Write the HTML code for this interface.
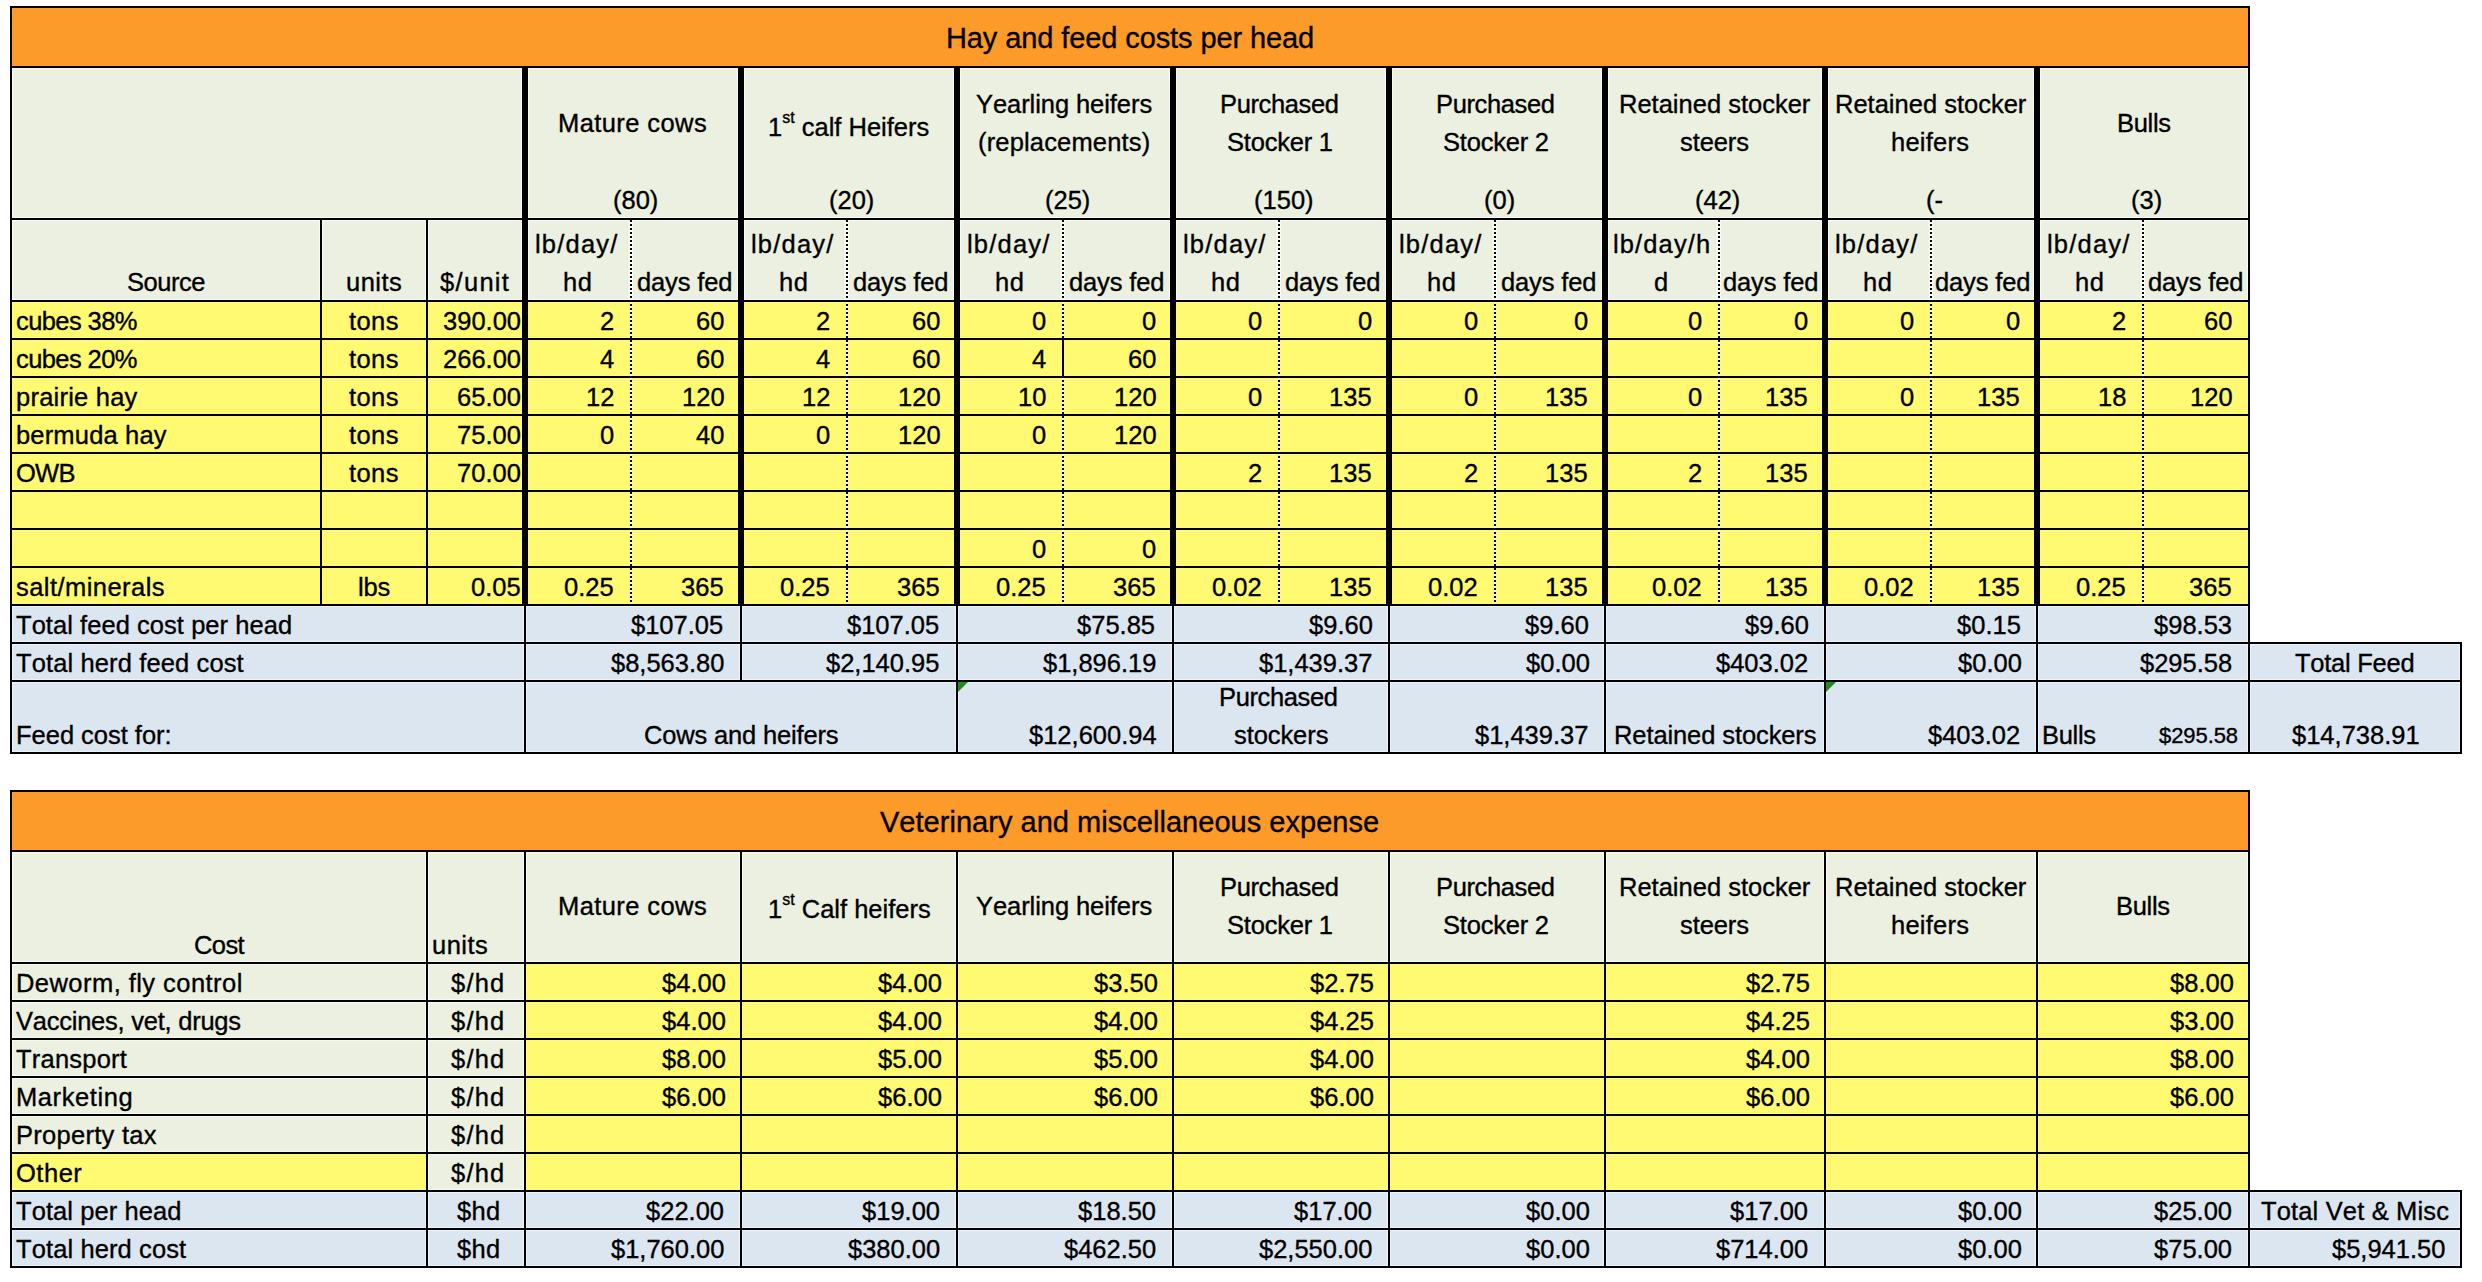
<!DOCTYPE html>
<html lang="en">
<head>
<meta charset="utf-8">
<title>Hay and feed costs per head</title>
<style>
html,body{margin:0;padding:0;background:#fff}
body{width:2482px;height:1282px;position:relative;overflow:hidden;font-family:"Liberation Sans",sans-serif;color:#000}
.r,.l,.d,.t{position:absolute}
.l{background:#000}
.d{background:repeating-linear-gradient(to bottom,#000 0,#000 2px,#fff 2px,#fff 4px)}
.t{white-space:pre;font-kerning:none;line-height:30px;height:30px;font-size:25.5px;-webkit-text-stroke:0.35px #000}
.t.h{font-size:29px;line-height:34px;height:34px}
.t.s{font-size:22px}
.t sup{font-size:16px;line-height:0;vertical-align:13px;letter-spacing:0}
.tri{position:absolute;width:0;height:0;border-top:10px solid #1E8A1E;border-right:10px solid transparent}

</style>
</head>
<body>
<!-- tinted fills (green / blue) -->
<div class="r" style="left:12px;top:68px;width:2236px;height:232px;background:#EBF0E0"></div>
<div class="r" style="left:12px;top:606px;width:2236px;height:36px;background:#DCE6F1"></div>
<div class="r" style="left:12px;top:644px;width:2448px;height:108px;background:#DCE6F1"></div>
<div class="r" style="left:12px;top:852px;width:2236px;height:110px;background:#EBF0E0"></div>
<div class="r" style="left:12px;top:964px;width:512px;height:226px;background:#EBF0E0"></div>
<div class="r" style="left:12px;top:1192px;width:2448px;height:74px;background:#DCE6F1"></div>
<!-- 1px light halo that Excel leaves beside borders on tinted fills -->
<div class="r" style="left:12px;top:68px;width:1px;height:232px;background:#FAFCF1"></div>
<div class="r" style="left:319px;top:217px;width:4px;height:83px;background:#FAFCF1"></div>
<div class="r" style="left:425px;top:217px;width:4px;height:83px;background:#FAFCF1"></div>
<div class="r" style="left:521px;top:68px;width:8px;height:232px;background:#FAFCF1"></div>
<div class="r" style="left:737px;top:68px;width:8px;height:232px;background:#FAFCF1"></div>
<div class="r" style="left:953px;top:68px;width:8px;height:232px;background:#FAFCF1"></div>
<div class="r" style="left:1169px;top:68px;width:8px;height:232px;background:#FAFCF1"></div>
<div class="r" style="left:1385px;top:68px;width:8px;height:232px;background:#FAFCF1"></div>
<div class="r" style="left:1601px;top:68px;width:8px;height:232px;background:#FAFCF1"></div>
<div class="r" style="left:1821px;top:68px;width:8px;height:232px;background:#FAFCF1"></div>
<div class="r" style="left:2033px;top:68px;width:8px;height:232px;background:#FAFCF1"></div>
<div class="r" style="left:629px;top:219px;width:4px;height:81px;background:#FAFCF1"></div>
<div class="r" style="left:845px;top:219px;width:4px;height:81px;background:#FAFCF1"></div>
<div class="r" style="left:1061px;top:219px;width:4px;height:81px;background:#FAFCF1"></div>
<div class="r" style="left:1277px;top:219px;width:4px;height:81px;background:#FAFCF1"></div>
<div class="r" style="left:1493px;top:219px;width:4px;height:81px;background:#FAFCF1"></div>
<div class="r" style="left:1717px;top:219px;width:4px;height:81px;background:#FAFCF1"></div>
<div class="r" style="left:1929px;top:219px;width:4px;height:81px;background:#FAFCF1"></div>
<div class="r" style="left:2141px;top:219px;width:4px;height:81px;background:#FAFCF1"></div>
<div class="r" style="left:2247px;top:68px;width:1px;height:232px;background:#FAFCF1"></div>
<div class="r" style="left:12px;top:68px;width:2236px;height:1px;background:#FAFCF1"></div>
<div class="r" style="left:12px;top:217px;width:2236px;height:4px;background:#FAFCF1"></div>
<div class="r" style="left:12px;top:299px;width:2236px;height:1px;background:#FAFCF1"></div>
<div class="r" style="left:12px;top:606px;width:1px;height:36px;background:#EBF3FC"></div>
<div class="r" style="left:2247px;top:606px;width:1px;height:36px;background:#EBF3FC"></div>
<div class="r" style="left:523px;top:606px;width:4px;height:36px;background:#EBF3FC"></div>
<div class="r" style="left:739px;top:606px;width:4px;height:36px;background:#EBF3FC"></div>
<div class="r" style="left:955px;top:606px;width:4px;height:36px;background:#EBF3FC"></div>
<div class="r" style="left:1171px;top:606px;width:4px;height:36px;background:#EBF3FC"></div>
<div class="r" style="left:1387px;top:606px;width:4px;height:36px;background:#EBF3FC"></div>
<div class="r" style="left:1603px;top:606px;width:4px;height:36px;background:#EBF3FC"></div>
<div class="r" style="left:1823px;top:606px;width:4px;height:36px;background:#EBF3FC"></div>
<div class="r" style="left:2035px;top:606px;width:4px;height:36px;background:#EBF3FC"></div>
<div class="r" style="left:12px;top:606px;width:2236px;height:1px;background:#EBF3FC"></div>
<div class="r" style="left:12px;top:641px;width:2236px;height:1px;background:#EBF3FC"></div>
<div class="r" style="left:12px;top:644px;width:1px;height:108px;background:#EBF3FC"></div>
<div class="r" style="left:2247px;top:644px;width:4px;height:108px;background:#EBF3FC"></div>
<div class="r" style="left:523px;top:644px;width:4px;height:108px;background:#EBF3FC"></div>
<div class="r" style="left:739px;top:644px;width:4px;height:39px;background:#EBF3FC"></div>
<div class="r" style="left:955px;top:644px;width:4px;height:108px;background:#EBF3FC"></div>
<div class="r" style="left:1171px;top:644px;width:4px;height:108px;background:#EBF3FC"></div>
<div class="r" style="left:1387px;top:644px;width:4px;height:108px;background:#EBF3FC"></div>
<div class="r" style="left:1603px;top:644px;width:4px;height:108px;background:#EBF3FC"></div>
<div class="r" style="left:1823px;top:644px;width:4px;height:108px;background:#EBF3FC"></div>
<div class="r" style="left:2035px;top:644px;width:4px;height:108px;background:#EBF3FC"></div>
<div class="r" style="left:2459px;top:644px;width:1px;height:108px;background:#EBF3FC"></div>
<div class="r" style="left:12px;top:644px;width:2448px;height:1px;background:#EBF3FC"></div>
<div class="r" style="left:12px;top:679px;width:2448px;height:4px;background:#EBF3FC"></div>
<div class="r" style="left:12px;top:751px;width:2448px;height:1px;background:#EBF3FC"></div>
<div class="r" style="left:12px;top:852px;width:1px;height:110px;background:#FAFCF1"></div>
<div class="r" style="left:425px;top:852px;width:4px;height:110px;background:#FAFCF1"></div>
<div class="r" style="left:523px;top:852px;width:4px;height:110px;background:#FAFCF1"></div>
<div class="r" style="left:739px;top:852px;width:4px;height:110px;background:#FAFCF1"></div>
<div class="r" style="left:955px;top:852px;width:4px;height:110px;background:#FAFCF1"></div>
<div class="r" style="left:1171px;top:852px;width:4px;height:110px;background:#FAFCF1"></div>
<div class="r" style="left:1387px;top:852px;width:4px;height:110px;background:#FAFCF1"></div>
<div class="r" style="left:1603px;top:852px;width:4px;height:110px;background:#FAFCF1"></div>
<div class="r" style="left:1823px;top:852px;width:4px;height:110px;background:#FAFCF1"></div>
<div class="r" style="left:2035px;top:852px;width:4px;height:110px;background:#FAFCF1"></div>
<div class="r" style="left:2247px;top:852px;width:1px;height:110px;background:#FAFCF1"></div>
<div class="r" style="left:12px;top:852px;width:2236px;height:1px;background:#FAFCF1"></div>
<div class="r" style="left:12px;top:961px;width:2236px;height:1px;background:#FAFCF1"></div>
<div class="r" style="left:12px;top:964px;width:1px;height:226px;background:#FAFCF1"></div>
<div class="r" style="left:425px;top:964px;width:4px;height:226px;background:#FAFCF1"></div>
<div class="r" style="left:523px;top:964px;width:1px;height:226px;background:#FAFCF1"></div>
<div class="r" style="left:12px;top:964px;width:512px;height:1px;background:#FAFCF1"></div>
<div class="r" style="left:12px;top:999px;width:512px;height:4px;background:#FAFCF1"></div>
<div class="r" style="left:12px;top:1037px;width:512px;height:4px;background:#FAFCF1"></div>
<div class="r" style="left:12px;top:1075px;width:512px;height:4px;background:#FAFCF1"></div>
<div class="r" style="left:12px;top:1113px;width:512px;height:4px;background:#FAFCF1"></div>
<div class="r" style="left:12px;top:1151px;width:512px;height:4px;background:#FAFCF1"></div>
<div class="r" style="left:12px;top:1189px;width:512px;height:1px;background:#FAFCF1"></div>
<div class="r" style="left:12px;top:1192px;width:1px;height:74px;background:#EBF3FC"></div>
<div class="r" style="left:425px;top:1192px;width:4px;height:74px;background:#EBF3FC"></div>
<div class="r" style="left:523px;top:1192px;width:4px;height:74px;background:#EBF3FC"></div>
<div class="r" style="left:739px;top:1192px;width:4px;height:74px;background:#EBF3FC"></div>
<div class="r" style="left:955px;top:1192px;width:4px;height:74px;background:#EBF3FC"></div>
<div class="r" style="left:1171px;top:1192px;width:4px;height:74px;background:#EBF3FC"></div>
<div class="r" style="left:1387px;top:1192px;width:4px;height:74px;background:#EBF3FC"></div>
<div class="r" style="left:1603px;top:1192px;width:4px;height:74px;background:#EBF3FC"></div>
<div class="r" style="left:1823px;top:1192px;width:4px;height:74px;background:#EBF3FC"></div>
<div class="r" style="left:2035px;top:1192px;width:4px;height:74px;background:#EBF3FC"></div>
<div class="r" style="left:2247px;top:1192px;width:4px;height:74px;background:#EBF3FC"></div>
<div class="r" style="left:2459px;top:1192px;width:1px;height:74px;background:#EBF3FC"></div>
<div class="r" style="left:12px;top:1192px;width:2448px;height:1px;background:#EBF3FC"></div>
<div class="r" style="left:12px;top:1227px;width:2448px;height:4px;background:#EBF3FC"></div>
<div class="r" style="left:12px;top:1265px;width:2448px;height:1px;background:#EBF3FC"></div>
<!-- solid fills (orange / yellow) cover the halo -->
<div class="r" style="left:12px;top:8px;width:2236px;height:58px;background:#FC9A2A"></div>
<div class="r" style="left:12px;top:302px;width:2236px;height:302px;background:#FFFA72"></div>
<div class="r" style="left:12px;top:792px;width:2236px;height:58px;background:#FC9A2A"></div>
<div class="r" style="left:12px;top:1154px;width:414px;height:36px;background:#FFFA72"></div>
<div class="r" style="left:526px;top:964px;width:1722px;height:226px;background:#FFFA72"></div>
<!-- borders -->
<div class="l" style="left:10px;top:6px;width:2px;height:748px"></div>
<div class="l" style="left:320px;top:218px;width:2px;height:386px"></div>
<div class="l" style="left:426px;top:218px;width:2px;height:386px"></div>
<div class="l" style="left:522px;top:66px;width:6px;height:538px"></div>
<div class="l" style="left:738px;top:66px;width:6px;height:538px"></div>
<div class="l" style="left:954px;top:66px;width:6px;height:538px"></div>
<div class="l" style="left:1170px;top:66px;width:6px;height:538px"></div>
<div class="l" style="left:1386px;top:66px;width:6px;height:538px"></div>
<div class="l" style="left:1602px;top:66px;width:6px;height:538px"></div>
<div class="l" style="left:1822px;top:66px;width:6px;height:538px"></div>
<div class="l" style="left:2034px;top:66px;width:6px;height:538px"></div>
<div class="d" style="left:630px;top:220px;width:2px;height:384px;background-position:0 0px"></div>
<div class="d" style="left:846px;top:220px;width:2px;height:384px;background-position:0 0px"></div>
<div class="d" style="left:1062px;top:220px;width:2px;height:384px;background-position:0 0px"></div>
<div class="d" style="left:1278px;top:220px;width:2px;height:384px;background-position:0 0px"></div>
<div class="d" style="left:1494px;top:220px;width:2px;height:384px;background-position:0 0px"></div>
<div class="d" style="left:1718px;top:220px;width:2px;height:384px;background-position:0 0px"></div>
<div class="d" style="left:1930px;top:220px;width:2px;height:384px;background-position:0 0px"></div>
<div class="d" style="left:2142px;top:220px;width:2px;height:384px;background-position:0 0px"></div>
<div class="l" style="left:1062px;top:338px;width:2px;height:40px"></div>
<div class="l" style="left:2248px;top:6px;width:2px;height:748px"></div>
<div class="l" style="left:524px;top:604px;width:2px;height:150px"></div>
<div class="l" style="left:740px;top:604px;width:2px;height:78px"></div>
<div class="l" style="left:956px;top:604px;width:2px;height:150px"></div>
<div class="l" style="left:1172px;top:604px;width:2px;height:150px"></div>
<div class="l" style="left:1388px;top:604px;width:2px;height:150px"></div>
<div class="l" style="left:1604px;top:604px;width:2px;height:150px"></div>
<div class="l" style="left:1824px;top:604px;width:2px;height:150px"></div>
<div class="l" style="left:2036px;top:604px;width:2px;height:150px"></div>
<div class="l" style="left:2460px;top:642px;width:2px;height:112px"></div>
<div class="l" style="left:10px;top:6px;width:2240px;height:2px"></div>
<div class="l" style="left:10px;top:66px;width:2240px;height:2px"></div>
<div class="l" style="left:10px;top:218px;width:2240px;height:2px"></div>
<div class="l" style="left:10px;top:300px;width:2240px;height:2px"></div>
<div class="l" style="left:10px;top:338px;width:2240px;height:2px"></div>
<div class="l" style="left:10px;top:376px;width:2240px;height:2px"></div>
<div class="l" style="left:10px;top:414px;width:2240px;height:2px"></div>
<div class="l" style="left:10px;top:452px;width:2240px;height:2px"></div>
<div class="l" style="left:10px;top:490px;width:2240px;height:2px"></div>
<div class="l" style="left:10px;top:528px;width:2240px;height:2px"></div>
<div class="l" style="left:10px;top:566px;width:2240px;height:2px"></div>
<div class="l" style="left:10px;top:604px;width:2240px;height:2px"></div>
<div class="l" style="left:10px;top:642px;width:2452px;height:2px"></div>
<div class="l" style="left:10px;top:680px;width:2452px;height:2px"></div>
<div class="l" style="left:10px;top:752px;width:2452px;height:2px"></div>
<div class="l" style="left:10px;top:790px;width:2px;height:478px"></div>
<div class="l" style="left:426px;top:850px;width:2px;height:418px"></div>
<div class="l" style="left:524px;top:850px;width:2px;height:418px"></div>
<div class="l" style="left:740px;top:850px;width:2px;height:418px"></div>
<div class="l" style="left:956px;top:850px;width:2px;height:418px"></div>
<div class="l" style="left:1172px;top:850px;width:2px;height:418px"></div>
<div class="l" style="left:1388px;top:850px;width:2px;height:418px"></div>
<div class="l" style="left:1604px;top:850px;width:2px;height:418px"></div>
<div class="l" style="left:1824px;top:850px;width:2px;height:418px"></div>
<div class="l" style="left:2036px;top:850px;width:2px;height:418px"></div>
<div class="l" style="left:2248px;top:790px;width:2px;height:478px"></div>
<div class="l" style="left:2460px;top:1190px;width:2px;height:78px"></div>
<div class="l" style="left:10px;top:790px;width:2240px;height:2px"></div>
<div class="l" style="left:10px;top:850px;width:2240px;height:2px"></div>
<div class="l" style="left:10px;top:962px;width:2240px;height:2px"></div>
<div class="l" style="left:10px;top:1000px;width:2240px;height:2px"></div>
<div class="l" style="left:10px;top:1038px;width:2240px;height:2px"></div>
<div class="l" style="left:10px;top:1076px;width:2240px;height:2px"></div>
<div class="l" style="left:10px;top:1114px;width:2240px;height:2px"></div>
<div class="l" style="left:10px;top:1152px;width:2240px;height:2px"></div>
<div class="l" style="left:10px;top:1190px;width:2452px;height:2px"></div>
<div class="l" style="left:10px;top:1228px;width:2452px;height:2px"></div>
<div class="l" style="left:10px;top:1266px;width:2452px;height:2px"></div>
<div class="tri" style="left:958px;top:682px"></div>
<div class="tri" style="left:1826px;top:682px"></div>
<!-- text -->
<div class="t" style="left:558px;top:108px;letter-spacing:0.41px">Mature cows</div>
<div class="t" style="left:768px;top:112px">1<sup>st</sup> calf Heifers</div>
<div class="t" style="left:976px;top:89px;letter-spacing:-0.07px">Yearling heifers</div>
<div class="t" style="left:978px;top:127px;letter-spacing:0.16px">(replacements)</div>
<div class="t" style="left:1220px;top:89px;letter-spacing:-0.38px">Purchased</div>
<div class="t" style="left:1227px;top:127px;letter-spacing:-0.21px">Stocker 1</div>
<div class="t" style="left:1436px;top:89px;letter-spacing:-0.38px">Purchased</div>
<div class="t" style="left:1443px;top:127px;letter-spacing:-0.21px">Stocker 2</div>
<div class="t" style="left:1619px;top:89px">Retained stocker</div>
<div class="t" style="left:1680px;top:127px;letter-spacing:-0.09px">steers</div>
<div class="t" style="left:1835px;top:89px">Retained stocker</div>
<div class="t" style="left:1891px;top:127px;letter-spacing:0.25px">heifers</div>
<div class="t" style="left:2117px;top:108px;letter-spacing:-0.31px">Bulls</div>
<div class="t" style="left:613px;top:185px">(80)</div>
<div class="t" style="left:829px;top:185px">(20)</div>
<div class="t" style="left:1045px;top:185px">(25)</div>
<div class="t" style="left:1254px;top:185px;letter-spacing:0.01px">(150)</div>
<div class="t" style="left:1484px;top:185px">(0)</div>
<div class="t" style="left:1695px;top:185px">(42)</div>
<div class="t" style="left:1926px;top:185px;letter-spacing:0.04px">(-</div>
<div class="t" style="left:2131px;top:185px">(3)</div>
<div class="t h" style="left:946px;top:21px;letter-spacing:-0.10px">Hay and feed costs per head</div>
<div class="t" style="left:127px;top:267px;letter-spacing:-0.49px">Source</div>
<div class="t" style="left:346px;top:267px;letter-spacing:0.46px">units</div>
<div class="t" style="left:440px;top:267px;letter-spacing:1.31px">$/unit</div>
<div class="t" style="left:535px;top:229px;letter-spacing:1.20px">lb/day/</div>
<div class="t" style="left:563px;top:267px;letter-spacing:0.52px">hd</div>
<div class="t" style="left:637px;top:267px;letter-spacing:-0.14px">days fed</div>
<div class="t" style="left:751px;top:229px;letter-spacing:1.20px">lb/day/</div>
<div class="t" style="left:779px;top:267px;letter-spacing:0.52px">hd</div>
<div class="t" style="left:853px;top:267px;letter-spacing:-0.14px">days fed</div>
<div class="t" style="left:967px;top:229px;letter-spacing:1.20px">lb/day/</div>
<div class="t" style="left:995px;top:267px;letter-spacing:0.52px">hd</div>
<div class="t" style="left:1069px;top:267px;letter-spacing:-0.14px">days fed</div>
<div class="t" style="left:1183px;top:229px;letter-spacing:1.20px">lb/day/</div>
<div class="t" style="left:1211px;top:267px;letter-spacing:0.52px">hd</div>
<div class="t" style="left:1285px;top:267px;letter-spacing:-0.14px">days fed</div>
<div class="t" style="left:1399px;top:229px;letter-spacing:1.20px">lb/day/</div>
<div class="t" style="left:1427px;top:267px;letter-spacing:0.52px">hd</div>
<div class="t" style="left:1501px;top:267px;letter-spacing:-0.14px">days fed</div>
<div class="t" style="left:1613px;top:229px;letter-spacing:1.12px">lb/day/h</div>
<div class="t" style="left:1654px;top:267px;letter-spacing:0.53px">d</div>
<div class="t" style="left:1723px;top:267px;letter-spacing:-0.14px">days fed</div>
<div class="t" style="left:1835px;top:229px;letter-spacing:1.20px">lb/day/</div>
<div class="t" style="left:1863px;top:267px;letter-spacing:0.52px">hd</div>
<div class="t" style="left:1935px;top:267px;letter-spacing:-0.14px">days fed</div>
<div class="t" style="left:2047px;top:229px;letter-spacing:1.20px">lb/day/</div>
<div class="t" style="left:2075px;top:267px;letter-spacing:0.52px">hd</div>
<div class="t" style="left:2148px;top:267px;letter-spacing:-0.14px">days fed</div>
<div class="t" style="left:16px;top:306px;letter-spacing:-0.59px">cubes 38%</div>
<div class="t" style="left:349px;top:306px;letter-spacing:0.40px">tons</div>
<div class="t" style="left:443px;top:306px;letter-spacing:0.01px">390.00</div>
<div class="t" style="left:600px;top:306px;letter-spacing:0.02px">2</div>
<div class="t" style="left:696px;top:306px;letter-spacing:0.01px">60</div>
<div class="t" style="left:816px;top:306px;letter-spacing:0.02px">2</div>
<div class="t" style="left:912px;top:306px;letter-spacing:0.01px">60</div>
<div class="t" style="left:1032px;top:306px;letter-spacing:0.02px">0</div>
<div class="t" style="left:1142px;top:306px;letter-spacing:0.02px">0</div>
<div class="t" style="left:1248px;top:306px;letter-spacing:0.02px">0</div>
<div class="t" style="left:1358px;top:306px;letter-spacing:0.02px">0</div>
<div class="t" style="left:1464px;top:306px;letter-spacing:0.02px">0</div>
<div class="t" style="left:1574px;top:306px;letter-spacing:0.02px">0</div>
<div class="t" style="left:1688px;top:306px;letter-spacing:0.02px">0</div>
<div class="t" style="left:1794px;top:306px;letter-spacing:0.02px">0</div>
<div class="t" style="left:1900px;top:306px;letter-spacing:0.02px">0</div>
<div class="t" style="left:2006px;top:306px;letter-spacing:0.02px">0</div>
<div class="t" style="left:2112px;top:306px;letter-spacing:0.02px">2</div>
<div class="t" style="left:2204px;top:306px;letter-spacing:0.01px">60</div>
<div class="t" style="left:16px;top:344px;letter-spacing:-0.59px">cubes 20%</div>
<div class="t" style="left:349px;top:344px;letter-spacing:0.40px">tons</div>
<div class="t" style="left:443px;top:344px;letter-spacing:0.01px">266.00</div>
<div class="t" style="left:600px;top:344px;letter-spacing:0.02px">4</div>
<div class="t" style="left:696px;top:344px;letter-spacing:0.01px">60</div>
<div class="t" style="left:816px;top:344px;letter-spacing:0.02px">4</div>
<div class="t" style="left:912px;top:344px;letter-spacing:0.01px">60</div>
<div class="t" style="left:1032px;top:344px;letter-spacing:0.02px">4</div>
<div class="t" style="left:1128px;top:344px;letter-spacing:0.01px">60</div>
<div class="t" style="left:16px;top:382px;letter-spacing:0.23px">prairie hay</div>
<div class="t" style="left:349px;top:382px;letter-spacing:0.40px">tons</div>
<div class="t" style="left:457px;top:382px;letter-spacing:0.01px">65.00</div>
<div class="t" style="left:586px;top:382px;letter-spacing:0.01px">12</div>
<div class="t" style="left:682px;top:382px;letter-spacing:0.01px">120</div>
<div class="t" style="left:802px;top:382px;letter-spacing:0.01px">12</div>
<div class="t" style="left:898px;top:382px;letter-spacing:0.01px">120</div>
<div class="t" style="left:1018px;top:382px;letter-spacing:0.01px">10</div>
<div class="t" style="left:1114px;top:382px;letter-spacing:0.01px">120</div>
<div class="t" style="left:1248px;top:382px;letter-spacing:0.02px">0</div>
<div class="t" style="left:1329px;top:382px;letter-spacing:0.01px">135</div>
<div class="t" style="left:1464px;top:382px;letter-spacing:0.02px">0</div>
<div class="t" style="left:1545px;top:382px;letter-spacing:0.01px">135</div>
<div class="t" style="left:1688px;top:382px;letter-spacing:0.02px">0</div>
<div class="t" style="left:1765px;top:382px;letter-spacing:0.01px">135</div>
<div class="t" style="left:1900px;top:382px;letter-spacing:0.02px">0</div>
<div class="t" style="left:1977px;top:382px;letter-spacing:0.01px">135</div>
<div class="t" style="left:2098px;top:382px;letter-spacing:0.01px">18</div>
<div class="t" style="left:2190px;top:382px;letter-spacing:0.01px">120</div>
<div class="t" style="left:16px;top:420px;letter-spacing:0.17px">bermuda hay</div>
<div class="t" style="left:349px;top:420px;letter-spacing:0.40px">tons</div>
<div class="t" style="left:457px;top:420px;letter-spacing:0.01px">75.00</div>
<div class="t" style="left:600px;top:420px;letter-spacing:0.02px">0</div>
<div class="t" style="left:696px;top:420px;letter-spacing:0.01px">40</div>
<div class="t" style="left:816px;top:420px;letter-spacing:0.02px">0</div>
<div class="t" style="left:898px;top:420px;letter-spacing:0.01px">120</div>
<div class="t" style="left:1032px;top:420px;letter-spacing:0.02px">0</div>
<div class="t" style="left:1114px;top:420px;letter-spacing:0.01px">120</div>
<div class="t" style="left:16px;top:458px;letter-spacing:-0.74px">OWB</div>
<div class="t" style="left:349px;top:458px;letter-spacing:0.40px">tons</div>
<div class="t" style="left:457px;top:458px;letter-spacing:0.01px">70.00</div>
<div class="t" style="left:1248px;top:458px;letter-spacing:0.02px">2</div>
<div class="t" style="left:1329px;top:458px;letter-spacing:0.01px">135</div>
<div class="t" style="left:1464px;top:458px;letter-spacing:0.02px">2</div>
<div class="t" style="left:1545px;top:458px;letter-spacing:0.01px">135</div>
<div class="t" style="left:1688px;top:458px;letter-spacing:0.02px">2</div>
<div class="t" style="left:1765px;top:458px;letter-spacing:0.01px">135</div>
<div class="t" style="left:1032px;top:534px;letter-spacing:0.02px">0</div>
<div class="t" style="left:1142px;top:534px;letter-spacing:0.02px">0</div>
<div class="t" style="left:16px;top:572px;letter-spacing:0.45px">salt/minerals</div>
<div class="t" style="left:358px;top:572px;letter-spacing:-0.17px">lbs</div>
<div class="t" style="left:471px;top:572px">0.05</div>
<div class="t" style="left:564px;top:572px">0.25</div>
<div class="t" style="left:681px;top:572px;letter-spacing:0.01px">365</div>
<div class="t" style="left:780px;top:572px">0.25</div>
<div class="t" style="left:897px;top:572px;letter-spacing:0.01px">365</div>
<div class="t" style="left:996px;top:572px">0.25</div>
<div class="t" style="left:1113px;top:572px;letter-spacing:0.01px">365</div>
<div class="t" style="left:1212px;top:572px">0.02</div>
<div class="t" style="left:1329px;top:572px;letter-spacing:0.01px">135</div>
<div class="t" style="left:1428px;top:572px">0.02</div>
<div class="t" style="left:1545px;top:572px;letter-spacing:0.01px">135</div>
<div class="t" style="left:1652px;top:572px">0.02</div>
<div class="t" style="left:1765px;top:572px;letter-spacing:0.01px">135</div>
<div class="t" style="left:1864px;top:572px">0.02</div>
<div class="t" style="left:1977px;top:572px;letter-spacing:0.01px">135</div>
<div class="t" style="left:2076px;top:572px">0.25</div>
<div class="t" style="left:2189px;top:572px;letter-spacing:0.01px">365</div>
<div class="t" style="left:16px;top:610px;letter-spacing:0.05px">Total feed cost per head</div>
<div class="t" style="left:631px;top:610px">$107.05</div>
<div class="t" style="left:847px;top:610px">$107.05</div>
<div class="t" style="left:1077px;top:610px;letter-spacing:0.01px">$75.85</div>
<div class="t" style="left:1309px;top:610px;letter-spacing:0.01px">$9.60</div>
<div class="t" style="left:1525px;top:610px;letter-spacing:0.01px">$9.60</div>
<div class="t" style="left:1745px;top:610px;letter-spacing:0.01px">$9.60</div>
<div class="t" style="left:1957px;top:610px;letter-spacing:0.01px">$0.15</div>
<div class="t" style="left:2154px;top:610px;letter-spacing:0.01px">$98.53</div>
<div class="t" style="left:16px;top:648px;letter-spacing:0.12px">Total herd feed cost</div>
<div class="t" style="left:611px;top:648px;letter-spacing:-0.01px">$8,563.80</div>
<div class="t" style="left:826px;top:648px;letter-spacing:-0.01px">$2,140.95</div>
<div class="t" style="left:1043px;top:648px;letter-spacing:-0.01px">$1,896.19</div>
<div class="t" style="left:1259px;top:648px;letter-spacing:-0.01px">$1,439.37</div>
<div class="t" style="left:1526px;top:648px;letter-spacing:0.01px">$0.00</div>
<div class="t" style="left:1716px;top:648px">$403.02</div>
<div class="t" style="left:1958px;top:648px;letter-spacing:0.01px">$0.00</div>
<div class="t" style="left:2140px;top:648px">$295.58</div>
<div class="t" style="left:2295px;top:648px;letter-spacing:-0.25px">Total Feed</div>
<div class="t" style="left:16px;top:720px;letter-spacing:-0.02px">Feed cost for:</div>
<div class="t" style="left:644px;top:720px;letter-spacing:-0.16px">Cows and heifers</div>
<div class="t" style="left:1029px;top:720px">$12,600.94</div>
<div class="t" style="left:1219px;top:682px;letter-spacing:-0.38px">Purchased</div>
<div class="t" style="left:1234px;top:720px;letter-spacing:-0.08px">stockers</div>
<div class="t" style="left:1475px;top:720px;letter-spacing:-0.01px">$1,439.37</div>
<div class="t" style="left:1614px;top:720px;letter-spacing:-0.10px">Retained stockers</div>
<div class="t" style="left:1928px;top:720px">$403.02</div>
<div class="t" style="left:2042px;top:720px;letter-spacing:-0.31px">Bulls</div>
<div class="t s" style="left:2159px;top:721px;letter-spacing:-0.07px">$295.58</div>
<div class="t" style="left:2292px;top:720px">$14,738.91</div>
<div class="t h" style="left:880px;top:805px;letter-spacing:0.03px">Veterinary and miscellaneous expense</div>
<div class="t" style="left:558px;top:891px;letter-spacing:0.41px">Mature cows</div>
<div class="t" style="left:768px;top:894px">1<sup>st</sup> Calf heifers</div>
<div class="t" style="left:976px;top:891px;letter-spacing:-0.07px">Yearling heifers</div>
<div class="t" style="left:1220px;top:872px;letter-spacing:-0.38px">Purchased</div>
<div class="t" style="left:1227px;top:910px;letter-spacing:-0.21px">Stocker 1</div>
<div class="t" style="left:1436px;top:872px;letter-spacing:-0.38px">Purchased</div>
<div class="t" style="left:1443px;top:910px;letter-spacing:-0.21px">Stocker 2</div>
<div class="t" style="left:1619px;top:872px">Retained stocker</div>
<div class="t" style="left:1680px;top:910px;letter-spacing:-0.09px">steers</div>
<div class="t" style="left:1835px;top:872px">Retained stocker</div>
<div class="t" style="left:1891px;top:910px;letter-spacing:0.25px">heifers</div>
<div class="t" style="left:2116px;top:891px;letter-spacing:-0.31px">Bulls</div>
<div class="t" style="left:194px;top:930px;letter-spacing:-0.60px">Cost</div>
<div class="t" style="left:432px;top:930px;letter-spacing:0.46px">units</div>
<div class="t" style="left:16px;top:968px;letter-spacing:0.45px">Deworm, fly control</div>
<div class="t" style="left:451px;top:968px;letter-spacing:1.20px">$/hd</div>
<div class="t" style="left:662px;top:968px;letter-spacing:0.01px">$4.00</div>
<div class="t" style="left:878px;top:968px;letter-spacing:0.01px">$4.00</div>
<div class="t" style="left:1094px;top:968px;letter-spacing:0.01px">$3.50</div>
<div class="t" style="left:1310px;top:968px;letter-spacing:0.01px">$2.75</div>
<div class="t" style="left:1746px;top:968px;letter-spacing:0.01px">$2.75</div>
<div class="t" style="left:2170px;top:968px;letter-spacing:0.01px">$8.00</div>
<div class="t" style="left:16px;top:1006px;letter-spacing:-0.24px">Vaccines, vet, drugs</div>
<div class="t" style="left:451px;top:1006px;letter-spacing:1.20px">$/hd</div>
<div class="t" style="left:662px;top:1006px;letter-spacing:0.01px">$4.00</div>
<div class="t" style="left:878px;top:1006px;letter-spacing:0.01px">$4.00</div>
<div class="t" style="left:1094px;top:1006px;letter-spacing:0.01px">$4.00</div>
<div class="t" style="left:1310px;top:1006px;letter-spacing:0.01px">$4.25</div>
<div class="t" style="left:1746px;top:1006px;letter-spacing:0.01px">$4.25</div>
<div class="t" style="left:2170px;top:1006px;letter-spacing:0.01px">$3.00</div>
<div class="t" style="left:16px;top:1044px;letter-spacing:0.22px">Transport</div>
<div class="t" style="left:451px;top:1044px;letter-spacing:1.20px">$/hd</div>
<div class="t" style="left:662px;top:1044px;letter-spacing:0.01px">$8.00</div>
<div class="t" style="left:878px;top:1044px;letter-spacing:0.01px">$5.00</div>
<div class="t" style="left:1094px;top:1044px;letter-spacing:0.01px">$5.00</div>
<div class="t" style="left:1310px;top:1044px;letter-spacing:0.01px">$4.00</div>
<div class="t" style="left:1746px;top:1044px;letter-spacing:0.01px">$4.00</div>
<div class="t" style="left:2170px;top:1044px;letter-spacing:0.01px">$8.00</div>
<div class="t" style="left:16px;top:1082px;letter-spacing:0.59px">Marketing</div>
<div class="t" style="left:451px;top:1082px;letter-spacing:1.20px">$/hd</div>
<div class="t" style="left:662px;top:1082px;letter-spacing:0.01px">$6.00</div>
<div class="t" style="left:878px;top:1082px;letter-spacing:0.01px">$6.00</div>
<div class="t" style="left:1094px;top:1082px;letter-spacing:0.01px">$6.00</div>
<div class="t" style="left:1310px;top:1082px;letter-spacing:0.01px">$6.00</div>
<div class="t" style="left:1746px;top:1082px;letter-spacing:0.01px">$6.00</div>
<div class="t" style="left:2170px;top:1082px;letter-spacing:0.01px">$6.00</div>
<div class="t" style="left:16px;top:1120px;letter-spacing:0.27px">Property tax</div>
<div class="t" style="left:451px;top:1120px;letter-spacing:1.20px">$/hd</div>
<div class="t" style="left:16px;top:1158px;letter-spacing:0.51px">Other</div>
<div class="t" style="left:451px;top:1158px;letter-spacing:1.20px">$/hd</div>
<div class="t" style="left:16px;top:1196px;letter-spacing:0.07px">Total per head</div>
<div class="t" style="left:457px;top:1196px;letter-spacing:0.36px">$hd</div>
<div class="t" style="left:646px;top:1196px;letter-spacing:0.01px">$22.00</div>
<div class="t" style="left:862px;top:1196px;letter-spacing:0.01px">$19.00</div>
<div class="t" style="left:1078px;top:1196px;letter-spacing:0.01px">$18.50</div>
<div class="t" style="left:1294px;top:1196px;letter-spacing:0.01px">$17.00</div>
<div class="t" style="left:1526px;top:1196px;letter-spacing:0.01px">$0.00</div>
<div class="t" style="left:1730px;top:1196px;letter-spacing:0.01px">$17.00</div>
<div class="t" style="left:1958px;top:1196px;letter-spacing:0.01px">$0.00</div>
<div class="t" style="left:2154px;top:1196px;letter-spacing:0.01px">$25.00</div>
<div class="t" style="left:16px;top:1234px;letter-spacing:0.11px">Total herd cost</div>
<div class="t" style="left:457px;top:1234px;letter-spacing:0.36px">$hd</div>
<div class="t" style="left:611px;top:1234px;letter-spacing:-0.01px">$1,760.00</div>
<div class="t" style="left:848px;top:1234px">$380.00</div>
<div class="t" style="left:1064px;top:1234px">$462.50</div>
<div class="t" style="left:1259px;top:1234px;letter-spacing:-0.01px">$2,550.00</div>
<div class="t" style="left:1526px;top:1234px;letter-spacing:0.01px">$0.00</div>
<div class="t" style="left:1716px;top:1234px">$714.00</div>
<div class="t" style="left:1958px;top:1234px;letter-spacing:0.01px">$0.00</div>
<div class="t" style="left:2154px;top:1234px;letter-spacing:0.01px">$75.00</div>
<div class="t" style="left:2261px;top:1196px;letter-spacing:0.15px">Total Vet &amp; Misc</div>
<div class="t" style="left:2332px;top:1234px;letter-spacing:-0.01px">$5,941.50</div>
</body>
</html>
